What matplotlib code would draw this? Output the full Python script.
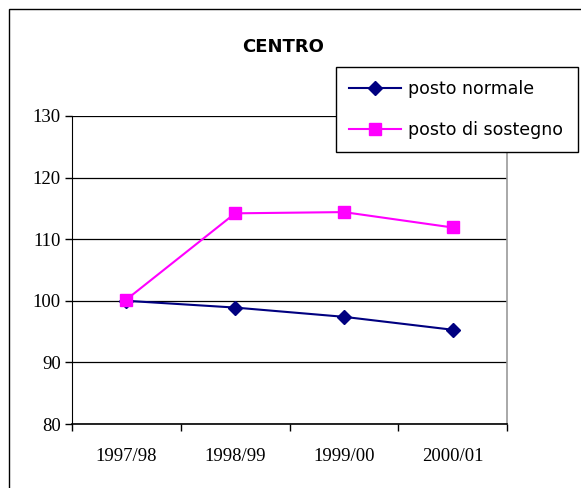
import matplotlib
matplotlib.use('Agg')
import matplotlib.pyplot as plt
from matplotlib.patches import Rectangle


years = ['1997/98', '1998/99', '1999/00', '2000/01']
normale = [100.0, 98.9, 97.4, 95.3]
sostegno = [100.2, 114.2, 114.4, 111.9]
y_ticks = [80, 90, 100, 110, 120, 130]


def plot():
    fig = plt.figure(figsize=(5.81, 4.88), dpi=100)
    ax = fig.add_axes([72 / 581, 64 / 488, 435 / 581, 308 / 488])

    x = range(len(years))
    ax.plot(x, normale, color='#000080', lw=1.5, marker='D', ms=7,
            label='posto normale', zorder=3)
    ax.plot(x, sostegno, color='#FF00FF', lw=1.5, marker='s', ms=9,
            label='posto di sostegno', zorder=3)

    ax.set_xlim(-0.5, len(years) - 0.5)
    ax.set_ylim(80, 130)
    ax.set_yticks(y_ticks)
    ax.set_yticklabels([str(v) for v in y_ticks], family='Liberation Serif', fontsize=13.5)
    # category labels centred, ticks on the boundaries
    ax.set_xticks(list(x))
    ax.set_xticklabels(years, family='Liberation Serif', fontsize=13.5)
    ax.set_xticks([i - 0.5 for i in range(len(years) + 1)], minor=True)
    ax.tick_params(axis='x', which='major', length=0, pad=17)
    ax.tick_params(axis='x', which='minor', length=5, direction='out', width=1)
    ax.tick_params(axis='y', length=5, direction='out', width=1, pad=3)

    ax.grid(axis='y', color='black', lw=0.9)
    ax.set_axisbelow(True)
    ax.spines['left'].set_color('black')
    ax.spines['bottom'].set_color('black')
    ax.spines['bottom'].set_linewidth(1.2)
    ax.spines['top'].set_visible(False)
    ax.spines['right'].set_color('#999999')
    ax.spines['right'].set_linewidth(1.2)

    fig.text(283 / 581, 1 - 47 / 488, 'CENTRO', ha='center', va='center',
             fontsize=13, fontweight='bold', family='DejaVu Sans')

    leg = ax.legend(loc='center left', bbox_to_anchor=(336 / 581, 1 - 151 / 488, 242 / 581, 83 / 488),
                    bbox_transform=fig.transFigure, mode='expand',
                    fancybox=False, framealpha=1, edgecolor='black',
                    prop={'family': 'DejaVu Sans', 'size': 12.5},
                    handlelength=3, borderaxespad=0, labelspacing=1.3,
                    handletextpad=0.4, borderpad=0.75)
    leg.get_frame().set_linewidth(1)
    leg.set_zorder(5)

    # outer chart border (cut at right and bottom)
    fig.add_artist(Rectangle((9 / 581, -0.1), 1.2, 1.1 - 9 / 488,
                             transform=fig.transFigure, fill=False,
                             edgecolor='black', lw=1))

    plt.savefig('out.png')


if __name__ == '__main__':
    plot()
